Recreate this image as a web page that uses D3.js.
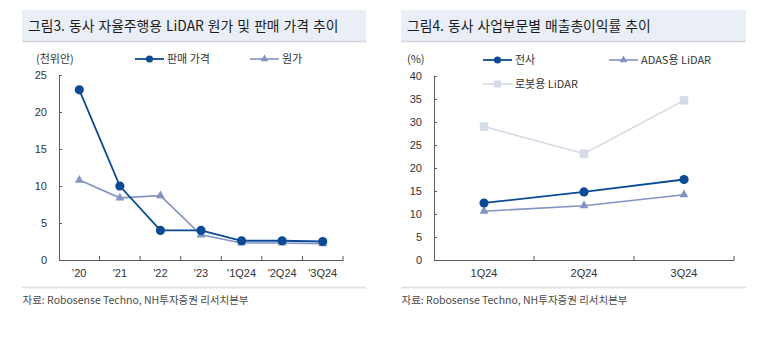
<!DOCTYPE html>
<html>
<head>
<meta charset="utf-8">
<script src="https://cdn.jsdelivr.net/npm/d3@7"></script>
<style>
  html, body { margin: 0; padding: 0; background: #fff; }
  svg { display: block; }
  text { font-family: "Liberation Sans", Arial, sans-serif; }
  .kr { font-family: "Noto Sans CJK KR", "Noto Sans", sans-serif; }
</style>
</head>
<body>
<svg id="chart" width="757" height="346"></svg>
<script>
// ---- Figure 3: LiDAR unit price vs. cost (thousand CNY) ----
const periodsA = ["'20", "'21", "'22", "'23", "'1Q24", "'2Q24", "'3Q24"];
const salePrice = [23.0, 10.0, 4.0, 4.0, 2.6, 2.6, 2.5];
const unitCost = [10.8, 8.4, 8.7, 3.4, 2.3, 2.3, 2.2];
const ticksA = [0, 5, 10, 15, 20, 25];

// ---- Figure 4: gross margin by segment (%) ----
const periodsB = ["1Q24", "2Q24", "3Q24"];
const marginTotal = [12.4, 14.8, 17.5];
const marginAdas = [10.6, 11.8, 14.2];
const marginRobot = [29.0, 23.1, 34.7];
const ticksB = [0, 5, 10, 15, 20, 25, 30, 35, 40];

const DARK = "#0c4a96";
const MID = "#8393c4";
const LIGHT = "#d5dbe6";
const AXIS = "#5a5a5a";

const svg = d3.select("#chart");

function panelFrame(x0, x1, title, titleX) {
  svg.append("rect").attr("x", x0).attr("y", 10).attr("width", x1 - x0).attr("height", 31)
    .attr("fill", "#e9eef7");
  svg.append("line").attr("x1", x0).attr("x2", x1).attr("y1", 41.5).attr("y2", 41.5)
    .attr("stroke", "#cfd4db").attr("stroke-width", 1.5);
  svg.append("text").attr("class", "kr").attr("x", titleX).attr("y", 31)
    .attr("font-size", 13.8).attr("fill", "#1b1b1b").attr("word-spacing", 1).text(title);
  svg.append("line").attr("x1", x0).attr("x2", x1).attr("y1", 287.5).attr("y2", 287.5)
    .attr("stroke", "#e4e4e4").attr("stroke-width", 2);
  svg.append("text").attr("class", "kr").attr("x", x0 + 0.5).attr("y", 304)
    .attr("font-size", 10.5).attr("fill", "#4a4a4a")
    .attr("textLength", 226).attr("lengthAdjust", "spacingAndGlyphs")
    .text("자료: Robosense Techno, NH투자증권 리서치본부");
}

function axes(g, x, y, ticks, unit, unitX) {
  const [xa, xb] = x.range();
  const [yb, yt] = y.range();
  // y axis with inward ticks
  const ya = g.append("g").attr("transform", `translate(${xa},0)`)
    .call(d3.axisLeft(y).tickValues(ticks).tickSizeInner(-3).tickSizeOuter(0).tickPadding(12));
  ya.select(".domain").attr("stroke", AXIS);
  ya.selectAll(".tick line").attr("stroke", AXIS);
  ya.selectAll(".tick text").attr("font-size", 11).attr("fill", "#333")
    .attr("font-family", "Liberation Sans, Arial, sans-serif");
  // x axis: labels at category centers, ticks at category boundaries
  const xg = g.append("g").attr("transform", `translate(0,${yb})`)
    .call(d3.axisBottom(x).tickSize(0).tickPadding(9));
  xg.select(".domain").attr("stroke", AXIS);
  xg.selectAll(".tick text").attr("font-size", 11).attr("fill", "#333")
    .attr("font-family", "Liberation Sans, Arial, sans-serif");
  g.selectAll(null).data(x.domain()).enter().append("line")
    .attr("x1", d => x(d) + x.bandwidth()).attr("x2", d => x(d) + x.bandwidth())
    .attr("y1", yb).attr("y2", yb - 4).attr("stroke", AXIS);
  g.append("text").attr("x", unitX).attr("y", 63).attr("font-size", 11).attr("fill", "#333")
    .attr("class", "kr").text(unit);
}

function series(g, x, y, cats, vals, color, width, marker) {
  const cx = (d, i) => x(cats[i]) + x.bandwidth() / 2;
  g.append("path").datum(vals)
    .attr("fill", "none").attr("stroke", color).attr("stroke-width", width)
    .attr("d", d3.line().x(cx).y(d => y(d)));
  g.selectAll(null).data(vals).enter().append("path")
    .attr("transform", (d, i) => `translate(${cx(d, i)},${y(d)})`)
    .attr("d", marker).attr("fill", color);
}

function legendItem(g, x, yy, label, color, width, marker) {
  g.append("line").attr("x1", x).attr("x2", x + 29).attr("y1", yy).attr("y2", yy)
    .attr("stroke", color).attr("stroke-width", width);
  g.append("path").attr("transform", `translate(${x + 14.5},${yy})`).attr("d", marker).attr("fill", color);
  g.append("text").attr("class", "kr").attr("x", x + 32).attr("y", yy + 4)
    .attr("font-size", 11).attr("fill", "#333").text(label);
}

const circleM = d3.symbol(d3.symbolCircle, 66)();
const triM = d3.symbol(d3.symbolTriangle, 34)();
const squareM = d3.symbol(d3.symbolSquare, 72)();
const circleL = d3.symbol(d3.symbolCircle, 40)();
const triL = d3.symbol(d3.symbolTriangle, 26)();
const squareL = d3.symbol(d3.symbolSquare, 50)();

// Left panel
panelFrame(22, 366, "그림3. 동사 자율주행용 LiDAR 원가 및 판매 가격 추이", 28);
const gA = svg.append("g");
const xA = d3.scaleBand().domain(periodsA).range([59, 343]);
const yA = d3.scaleLinear().domain([0, 25]).range([260, 75]);
axes(gA, xA, yA, ticksA, "(천위안)", 36);
series(gA, xA, yA, periodsA, unitCost, MID, 1.6, triM);
series(gA, xA, yA, periodsA, salePrice, DARK, 1.8, circleM);
legendItem(gA, 135, 59, "판매 가격", DARK, 1.8, circleL);
legendItem(gA, 250, 59, "원가", MID, 1.6, triL);

// Right panel
panelFrame(401, 746, "그림4. 동사 사업부문별 매출총이익률 추이", 407);
const gB = svg.append("g");
const xB = d3.scaleBand().domain(periodsB).range([434, 734]);
const yB = d3.scaleLinear().domain([0, 40]).range([260, 76]);
axes(gB, xB, yB, ticksB, "(%)", 407);
series(gB, xB, yB, periodsB, marginRobot, LIGHT, 1.6, squareM);
series(gB, xB, yB, periodsB, marginAdas, MID, 1.6, triM);
series(gB, xB, yB, periodsB, marginTotal, DARK, 1.8, circleM);
legendItem(gB, 483, 60, "전사", DARK, 1.8, circleL);
legendItem(gB, 609, 60, "ADAS용 LiDAR", MID, 1.6, triL);
legendItem(gB, 483, 84, "로봇용 LiDAR", LIGHT, 1.6, squareL);
</script>
</body>
</html>
